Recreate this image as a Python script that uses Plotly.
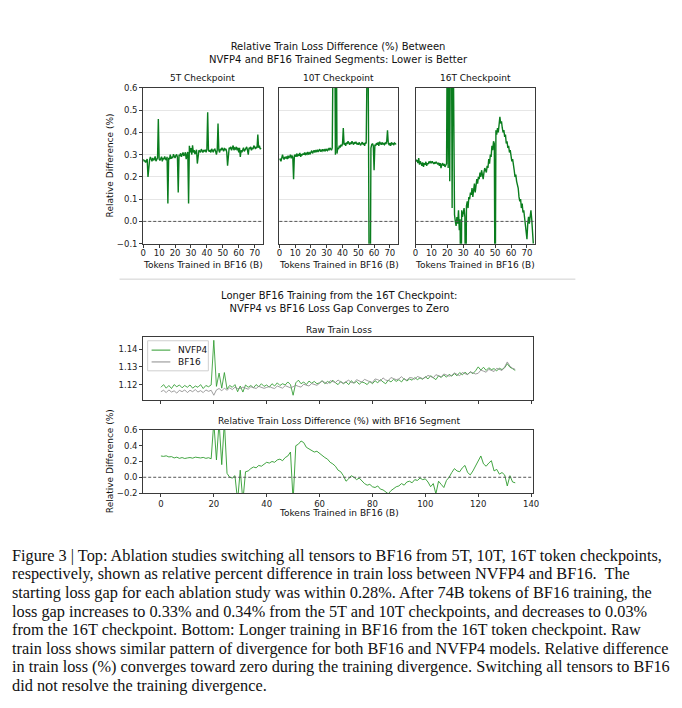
"""Relative train loss difference NVFP4 vs BF16 (two-part figure with caption)."""

import numpy as np
import plotly.graph_objects as go

PAGE_W, PAGE_H = 682, 708
OFFSET = 8  # the page body margin pushes the figure by this much
W, H = PAGE_W - OFFSET, PAGE_H - OFFSET

# --- data ----------------------------------------------------------------

STEP_TOP = 0.5      # B tokens between samples, top panels
STEP_LONG = 1.0     # B tokens between samples, bottom panels

TOP_TITLES = ["5T Checkpoint", "10T Checkpoint", "16T Checkpoint"]
SERIES_NAMES = ["NVFP4", "BF16"]

REL_5T = [
    0.280, 0.270, 0.275, 0.265, 0.272, 0.280, 0.200, 0.270, 0.276, 0.290,
    0.281, 0.270, 0.285, 0.275, 0.280, 0.292, 0.271, 0.280, 0.286, 0.460,
    0.280, 0.274, 0.286, 0.291, 0.270, 0.285, 0.279, 0.292, 0.281, 0.275,
    0.290, 0.080, 0.286, 0.279, 0.300, 0.281, 0.291, 0.284, 0.302, 0.290,
    0.285, 0.296, 0.301, 0.289, 0.130, 0.300, 0.294, 0.306, 0.290, 0.301,
    0.310, 0.295, 0.300, 0.311, 0.280, 0.300, 0.312, 0.080, 0.340, 0.310,
    0.330, 0.300, 0.342, 0.310, 0.320, 0.302, 0.312, 0.322, 0.260, 0.311,
    0.320, 0.316, 0.310, 0.325, 0.320, 0.310, 0.321, 0.315, 0.322, 0.311,
    0.325, 0.490, 0.320, 0.314, 0.321, 0.310, 0.326, 0.320, 0.311, 0.322,
    0.325, 0.315, 0.300, 0.320, 0.440, 0.320, 0.310, 0.326, 0.320, 0.331,
    0.320, 0.315, 0.330, 0.321, 0.326, 0.310, 0.250, 0.320, 0.331, 0.326,
    0.335, 0.320, 0.331, 0.341, 0.320, 0.330, 0.326, 0.335, 0.320, 0.331,
    0.310, 0.331, 0.290, 0.320, 0.311, 0.326, 0.331, 0.315, 0.321, 0.330,
    0.335, 0.320, 0.300, 0.331, 0.326, 0.335, 0.320, 0.331, 0.325, 0.341,
    0.330, 0.326, 0.335, 0.330, 0.390, 0.331, 0.340, 0.325, 0.330,
]

REL_10T = [
    0.275, 0.282, 0.270, 0.290, 0.300, 0.285, 0.278, 0.290, 0.283, 0.292,
    0.280, 0.295, 0.286, 0.290, 0.300, 0.284, 0.296, 0.288, 0.190, 0.295,
    0.300, 0.290, 0.305, 0.292, 0.300, 0.296, 0.308, 0.290, 0.302, 0.297,
    0.305, 0.300, 0.310, 0.298, 0.306, 0.302, 0.312, 0.300, 0.308, 0.304,
    0.312, 0.318, 0.306, 0.315, 0.320, 0.310, 0.318, 0.314, 0.322, 0.312,
    0.318, 0.325, 0.314, 0.320, 0.316, 0.324, 0.318, 0.322, 0.315, 0.326,
    0.320, 0.318, 0.326, 0.322, 0.330, 0.325, 0.320, 0.330, 1.000, 1.200,
    1.000, 0.300, 1.000, 0.305, 0.330, 0.325, 0.340, 0.332, 0.345, 0.338,
    0.350, 0.420, 0.345, 0.352, 0.340, 0.355, 0.348, 0.360, 0.352, 0.345,
    0.355, 0.348, 0.360, 0.350, 0.345, 0.356, 0.350, 0.358, 0.346, 0.352,
    0.345, 0.355, 0.348, 0.342, 0.350, 0.356, 0.345, 0.352, 0.340, 0.355,
    0.350, 1.000, 1.000, 0.360, -0.500, -0.500, 0.330, 0.345, 0.350, 0.340,
    0.230, 0.345, 0.340, 0.352, 0.345, 0.355, 0.340, 0.358, 0.350, 0.345,
    0.355, 0.348, 0.350, 0.345, 0.352, 0.348, 0.360, 0.410, 0.350, 0.345,
    0.352, 0.340, 0.355, 0.348, 0.350, 0.345, 0.352, 0.348, 0.350,
]

REL_16T = [
    0.280, 0.270, 0.275, 0.262, 0.285, 0.255, 0.270, 0.262, 0.250, 0.265,
    0.245, 0.262, 0.255, 0.268, 0.250, 0.262, 0.258, 0.270, 0.262, 0.268,
    0.262, 0.270, 0.265, 0.258, 0.266, 0.260, 0.268, 0.262, 0.256, 0.264,
    0.250, 0.262, 0.240, 0.255, 0.262, 0.250, 0.258, 0.245, 0.255, 0.260,
    1.000, 0.240, 1.000, 0.180, 1.000, 1.000, 0.060, 1.000, 0.120, 0.030,
    0.000, -0.020, 0.020, -0.010, 0.050, -0.040, 0.010, -0.500, 0.050, 0.020,
    0.040, 0.060, 0.020, -0.500, 0.070, 0.090, 0.060, 0.110, 0.100, 0.130,
    0.120, 0.150, 0.110, 0.140, 0.170, 0.130, 0.160, 0.190, 0.170, 0.200,
    0.190, 0.220, 0.200, 0.230, 0.210, 0.190, 0.220, 0.240, 0.230, 0.220,
    0.250, 0.240, 0.280, 0.260, 0.300, 0.290, 0.340, 0.320, 0.360, 0.350,
    -0.500, 0.410, 0.390, 0.420, 0.400, 0.430, 0.470, 0.440, 0.450, 0.420,
    0.400, 0.410, 0.380, 0.390, 0.350, 0.360, 0.330, 0.340, 0.310, 0.320,
    0.290, 0.270, 0.280, 0.240, 0.230, 0.200, 0.210, 0.180, 0.170, 0.150,
    0.110, 0.090, 0.100, 0.060, 0.080, 0.040, 0.050, 0.010, 0.000, -0.040,
    -0.080, -0.010, 0.020, -0.010, 0.030, 0.050, 0.010, -0.030, -0.100,
]

RAW_NVFP4 = [
    1.1185, 1.1200, 1.1180, 1.1195, 1.1178, 1.1200, 1.1188, 1.1198, 1.1182, 1.1195,
    1.1185, 1.1198, 1.1180, 1.1192, 1.1185, 1.1200, 1.1178, 1.1195, 1.1188, 1.1198,
    1.1450, 1.1190, 1.1265, 1.1180, 1.1268, 1.1175, 1.1195, 1.1185, 1.1200, 1.1160,
    1.1192, 1.1158, 1.1198, 1.1185, 1.1195, 1.1182, 1.1200, 1.1188, 1.1205, 1.1190,
    1.1198, 1.1185, 1.1205, 1.1192, 1.1210, 1.1195, 1.1205, 1.1198, 1.1215, 1.1200,
    1.1140, 1.1210, 1.1225, 1.1205, 1.1215, 1.1200, 1.1220, 1.1208, 1.1218, 1.1205,
    1.1210, 1.1222, 1.1205, 1.1218, 1.1208, 1.1225, 1.1210, 1.1200, 1.1218, 1.1205,
    1.1215, 1.1200, 1.1222, 1.1208, 1.1218, 1.1202, 1.1215, 1.1210, 1.1200, 1.1218,
    1.1205, 1.1222, 1.1210, 1.1228, 1.1215, 1.1205, 1.1225, 1.1215, 1.1230, 1.1218,
    1.1228, 1.1215, 1.1235, 1.1220, 1.1232, 1.1225, 1.1240, 1.1228, 1.1238, 1.1230,
    1.1245, 1.1232, 1.1250, 1.1238, 1.1228, 1.1250, 1.1240, 1.1255, 1.1242, 1.1258,
    1.1248, 1.1262, 1.1250, 1.1268, 1.1255, 1.1270, 1.1258, 1.1272, 1.1262, 1.1278,
    1.1300, 1.1282, 1.1298, 1.1280, 1.1295, 1.1285, 1.1290, 1.1278, 1.1292, 1.1285,
    1.1295, 1.1318, 1.1298, 1.1290, 1.1280,
]

RAW_BF16 = [
    1.1160, 1.1168, 1.1155, 1.1170, 1.1158, 1.1165, 1.1152, 1.1168, 1.1160, 1.1170,
    1.1155, 1.1168, 1.1160, 1.1172, 1.1158, 1.1166, 1.1155, 1.1170, 1.1162, 1.1168,
    1.1140, 1.1170, 1.1178, 1.1165, 1.1180, 1.1168, 1.1182, 1.1172, 1.1185, 1.1178,
    1.1178, 1.1186, 1.1180, 1.1174, 1.1188, 1.1182, 1.1178, 1.1190, 1.1184, 1.1179,
    1.1184, 1.1190, 1.1182, 1.1178, 1.1192, 1.1186, 1.1180, 1.1194, 1.1188, 1.1182,
    1.1188, 1.1196, 1.1190, 1.1186, 1.1202, 1.1196, 1.1192, 1.1206, 1.1200, 1.1196,
    1.1208, 1.1220, 1.1212, 1.1205, 1.1222, 1.1215, 1.1212, 1.1226, 1.1214, 1.1208,
    1.1218, 1.1225, 1.1212, 1.1210, 1.1228, 1.1220, 1.1214, 1.1230, 1.1222, 1.1216,
    1.1212, 1.1232, 1.1228, 1.1220, 1.1238, 1.1226, 1.1222, 1.1240, 1.1234, 1.1228,
    1.1232, 1.1245, 1.1230, 1.1225, 1.1240, 1.1238, 1.1230, 1.1246, 1.1240, 1.1234,
    1.1240, 1.1252, 1.1246, 1.1238, 1.1256, 1.1250, 1.1244, 1.1260, 1.1254, 1.1248,
    1.1252, 1.1266, 1.1258, 1.1250, 1.1268, 1.1262, 1.1256, 1.1272, 1.1266, 1.1260,
    1.1264, 1.1282, 1.1276, 1.1270, 1.1286, 1.1280, 1.1274, 1.1292, 1.1286, 1.1280,
    1.1300, 1.1328, 1.1304, 1.1292, 1.1286,
]

REL_LONG = [
    0.270, 0.265, 0.272, 0.258, 0.262, 0.245, 0.255, 0.240, 0.250, 0.238,
    0.245, 0.250, 0.242, 0.255, 0.250, 0.245, 0.252, 0.240, 0.248, 0.235,
    0.700, 0.220, 0.700, 0.160, 0.700, 0.050, 0.000, -0.010, 0.020, -0.300,
    0.090, -0.300, 0.070, 0.080, 0.110, 0.130, 0.120, 0.150, 0.140, 0.170,
    0.190, 0.180, 0.200, 0.190, 0.220, 0.230, 0.210, 0.250, 0.270, 0.320,
    -0.300, 0.400, 0.420, 0.460, 0.440, 0.380, 0.360, 0.340, 0.320, 0.330,
    0.300, 0.280, 0.250, 0.230, 0.190, 0.170, 0.140, 0.090, 0.070, 0.020,
    -0.050, -0.020, 0.020, 0.000, -0.030, -0.010, -0.050, -0.080, -0.100, -0.090,
    -0.120, -0.130, -0.110, -0.150, -0.160, -0.180, -0.210, -0.170, -0.140, -0.120,
    -0.110, -0.080, -0.100, -0.060, -0.050, -0.070, -0.030, -0.040, -0.010, -0.030,
    -0.020, -0.060, -0.120, -0.080, -0.210, -0.050, -0.090, -0.130, -0.040, 0.000,
    0.060, 0.110, 0.080, 0.070, 0.120, 0.150, 0.060, 0.030, 0.080, 0.150,
    0.200, 0.270, 0.170, 0.140, 0.180, 0.210, 0.080, 0.100, 0.040, 0.060,
    0.030, -0.110, 0.020, -0.060, -0.070,
]

TOP_XTICKS = [0, 10, 20, 30, 40, 50, 60, 70]
TOP_YTICKS = [-0.1, 0.0, 0.1, 0.2, 0.3, 0.4, 0.5, 0.6]
RAW_YTICKS = [1.12, 1.13, 1.14]
LONG_XTICKS = [0, 20, 40, 60, 80, 100, 120, 140]
LONG_YTICKS = [-0.2, 0.0, 0.2, 0.4, 0.6]

CAPTION_LINES = [
    "Figure 3 | Top: Ablation studies switching all tensors to BF16 from 5T, 10T, 16T token checkpoints,",
    "respectively, shown as relative percent difference in train loss between NVFP4 and BF16.  The",
    "starting loss gap for each ablation study was within 0.28%. After 74B tokens of BF16 training, the",
    "loss gap increases to 0.33% and 0.34% from the 5T and 10T checkpoints, and decreases to 0.03%",
    "from the 16T checkpoint. Bottom: Longer training in BF16 from the 16T token checkpoint. Raw",
    "train loss shows similar pattern of divergence for both BF16 and NVFP4 models. Relative difference",
    "in train loss (%) converges toward zero during the training divergence. Switching all tensors to BF16",
    "did not resolve the training divergence.",
]

# --- styling ---------------------------------------------------------------

FONT = "DejaVu Sans"
DARK_GREEN = "#0a7d1e"
LIGHT_GREEN = "#2e9b2e"
GRAY = "#8c8c8c"
SPINE = "#3a3a3a"


def fx(px: float) -> float:
    """Page pixel x -> paper fraction."""
    return (px - OFFSET) / W


def fy(px: float) -> float:
    """Page pixel y (from top) -> paper fraction."""
    return 1 - (px - OFFSET) / H


def axis_common() -> dict:
    return dict(
        showline=True, mirror=True, linecolor=SPINE, linewidth=1,
        ticks="outside", ticklen=3, tickcolor=SPINE, zeroline=False,
        tickfont=dict(family=FONT, size=8.5, color="#222"),
    )


def label(text, x, y, size=9, **kw):
    fig.add_annotation(text=text, xref="paper", yref="paper", x=fx(x), y=fy(y),
                       xanchor=kw.pop("xanchor", "center"), yanchor="middle",
                       showarrow=False, font=dict(family=kw.pop("family", FONT),
                                                  size=size, color="#111"), **kw)


def paper_line(x0, x1, y0, y1, color, width=1):
    fig.add_shape(type="line", xref="paper", yref="paper",
                  x0=fx(x0), x1=fx(x1), y0=fy(y0), y1=fy(y1),
                  line=dict(color=color, width=width))


fig = go.Figure()

# top panels: (left px, right px)
top_boxes = [(142, 263), (280, 400), (418, 539)]
top_series = [REL_5T, REL_10T, REL_16T]
top_y = (84, 242)

for i, ((x0, x1), vals) in enumerate(zip(top_boxes, top_series), start=1):
    sfx = "" if i == 1 else str(i)
    xs = np.arange(len(vals)) * STEP_TOP
    fig.add_trace(go.Scatter(
        x=xs, y=vals, mode="lines", line=dict(color=DARK_GREEN, width=1.4),
        xaxis=f"x{sfx}", yaxis=f"y{sfx}", showlegend=False, hoverinfo="skip",
    ))
    fig.layout[f"xaxis{i}"] = dict(
        axis_common(), domain=[fx(x0), fx(x1)], anchor=f"y{sfx}",
        range=[0, 75], tickvals=TOP_XTICKS, showgrid=False, ticklabelstandoff=-2,
    )
    fig.layout[f"yaxis{i}"] = dict(
        axis_common(), domain=[fy(top_y[1]), fy(top_y[0])], anchor=f"x{sfx}",
        range=[-0.1, 0.6], tickvals=TOP_YTICKS, tickformat=".1f",
        showgrid=True, gridcolor="#e6e6e6", gridwidth=1,
        showticklabels=(i == 1), ticks="outside" if i == 1 else "",
    )
    fig.add_shape(type="line", xref=f"x{sfx} domain", yref=f"y{sfx}",
                  x0=0, x1=1, y0=0, y1=0,
                  line=dict(color="#555", width=1, dash="3px,2px"))
    label(TOP_TITLES[i - 1], (x0 + x1) / 2, 74)
    label("Tokens Trained in BF16 (B)", (x0 + x1) / 2, 263.5)

# bottom panels
bx0, bx1 = 142, 537
xs_long = np.arange(len(RAW_NVFP4)) * STEP_LONG
for vals, colour in ((RAW_NVFP4, LIGHT_GREEN), (RAW_BF16, GRAY)):
    fig.add_trace(go.Scatter(
        x=xs_long, y=vals, mode="lines", line=dict(color=colour, width=0.85),
        xaxis="x4", yaxis="y4", showlegend=False, hoverinfo="skip",
    ))
fig.add_trace(go.Scatter(
    x=np.arange(len(REL_LONG)) * STEP_LONG, y=REL_LONG, mode="lines",
    line=dict(color=LIGHT_GREEN, width=0.9), xaxis="x5", yaxis="y5",
    showlegend=False, hoverinfo="skip",
))

fig.layout["xaxis4"] = dict(axis_common(), domain=[fx(bx0), fx(bx1)], anchor="y4",
                            range=[-6.7, 140.7], tickvals=LONG_XTICKS,
                            showticklabels=False, showgrid=False)
fig.layout["yaxis4"] = dict(axis_common(), domain=[fy(401), fy(337)], anchor="x4",
                            range=[1.1111, 1.1467], tickvals=RAW_YTICKS,
                            tickformat=".2f", showgrid=False)
fig.layout["xaxis5"] = dict(axis_common(), domain=[fx(bx0), fx(bx1)], anchor="y5",
                            range=[-6.7, 140.7], tickvals=LONG_XTICKS, showgrid=False)
fig.layout["yaxis5"] = dict(axis_common(), domain=[fy(495), fy(431)], anchor="x5",
                            range=[-0.2, 0.6], tickvals=LONG_YTICKS,
                            tickformat=".1f", showgrid=False)
fig.add_shape(type="line", xref="x5 domain", yref="y5", x0=0, x1=1, y0=0, y1=0,
              line=dict(color="#555", width=1, dash="3px,2px"))

# legend box in the raw-loss panel (matplotlib-style compact legend)
fig.add_shape(type="rect", xref="paper", yref="paper",
              x0=fx(146.5), x1=fx(208), y0=fy(371), y1=fy(340.5),
              line=dict(color="#cfcfcf", width=1), fillcolor="white")
for k, (name, colour) in enumerate(zip(SERIES_NAMES, (LIGHT_GREEN, GRAY))):
    y = 350 + 12 * k
    paper_line(150.5, 169.5, y, y, colour, 1)
    label(name, 175, y, 9, xanchor="left")

# titles and labels
label("Relative Train Loss Difference (%) Between<br>"
      "NVFP4 and BF16 Trained Segments: Lower is Better", 340, 48.5, 10)
label("Longer BF16 Training from the 16T Checkpoint:<br>"
      "NVFP4 vs BF16 Loss Gap Converges to Zero", 340, 301.5, 10)
label("Raw Train Loss", 340, 330)
label("Relative Train Loss Difference (%) with BF16 Segment", 340, 422)
label("Tokens Trained in BF16 (B)", 340, 515)
for y in (163, 463):
    label("Relative Difference (%)", 108, y, textangle=-90)

paper_line(118, 580, 278, 278, "#d0d0d0")

for k, line in enumerate(CAPTION_LINES):
    label(line, 7, 558 + k * 18.9, 16.3, xanchor="left", family="Liberation Serif")

fig.update_layout(
    width=W, height=H, margin=dict(l=0, r=0, t=0, b=0),
    paper_bgcolor="white", plot_bgcolor="white", showlegend=False,
)

fig.write_html("out.html")
